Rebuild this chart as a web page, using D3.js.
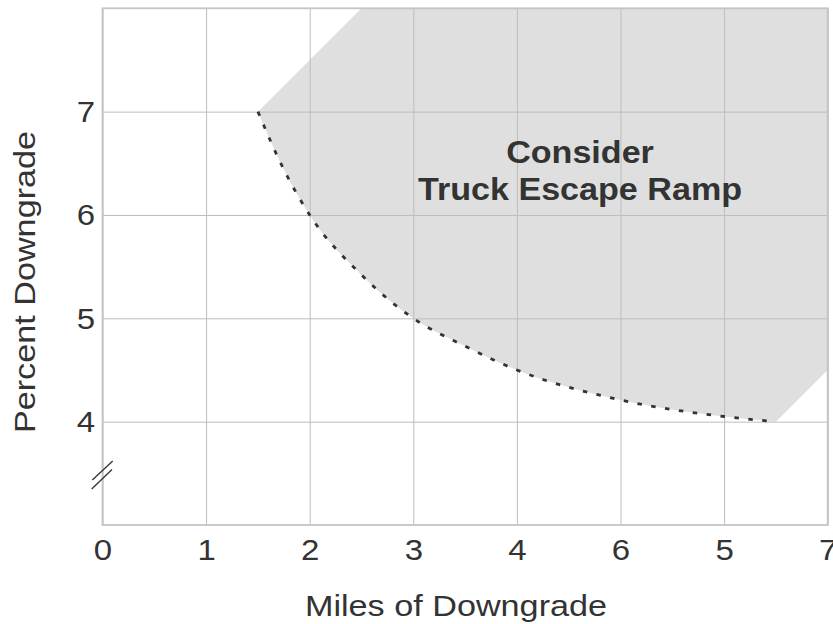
<!DOCTYPE html>
<html>
<head>
<meta charset="utf-8">
<script src="https://cdn.jsdelivr.net/npm/d3@7"></script>
<style>
  html, body { margin: 0; padding: 0; background: #fff; }
  svg { display: block; }
  text { font-family: "Liberation Sans", Arial, Helvetica, sans-serif; fill: #333; }
</style>
</head>
<body>
<svg id="chart" width="833" height="624"></svg>
<script>
// Axis positions (miles) and the labels printed under them
const xTicks = [0, 1, 2, 3, 4, 5, 6, 7];
const xTickLabels = ["0", "1", "2", "3", "4", "6", "5", "7"];
// Percent grade ticks shown on the left (bottom of the axis is broken)
const yTicks = [4, 5, 6, 7];
const yTickLabels = ["4", "5", "6", "7"];

// Boundary curve: grade vs. length of downgrade
const curveMiles = [1.5, 1.75, 2, 2.5, 3, 3.5, 4, 5, 6, 6.5];
const curveGrade = [7.0, 6.44, 6.0, 5.42, 5.0, 4.73, 4.5, 4.21, 4.05, 4.0];

// Outer corners of the shaded "consider a ramp" zone (after the curve ends)
const zoneMiles = [6.5, 7, 7, 2.5, 1.5];
const zoneGrade = [4.0, 4.5, 8, 8, 7.0];

const svg = d3.select("#chart");
const plotL = 102.5, plotR = 827.7, plotT = 8.3, plotB = 525;
const x = d3.scaleLinear().domain([0, 7]).range([plotL, plotR]);
const y = d3.scaleLinear().domain([3, 8]).range([plotB, plotT]);
const stretch = "scale(1.1,1)";
const titleStretch = "scale(1.14,1)";

const curvePts = curveMiles.map((m, i) => [m, curveGrade[i]]);
const zonePts = zoneMiles.map((m, i) => [m, zoneGrade[i]]);

const line = d3.line().x(d => x(d[0])).y(d => y(d[1])).curve(d3.curveMonotoneX);

// shaded zone: curve, then the outer corners, closed
const zonePath = line(curvePts) + zonePts.map(p => "L" + x(p[0]) + "," + y(p[1])).join("") + "Z";
svg.append("path").attr("d", zonePath).attr("fill", "#dfdfdf");

// gridlines via axes
const gx = svg.append("g").attr("transform", `translate(0,${plotB})`)
  .call(d3.axisBottom(x).tickValues(xTicks).tickSize(-(plotB - plotT))
    .tickFormat((d, i) => xTickLabels[i]));
gx.select(".domain").remove();
gx.selectAll(".tick line").attr("stroke", "#bdbdbd").attr("stroke-width", 1);
gx.selectAll(".tick text")
  .attr("y", 35.5).attr("dy", null)
  .attr("font-size", 30).attr("fill", "#333")
  .attr("font-family", "Liberation Sans, Arial, sans-serif")
  .attr("transform", stretch);

const gy = svg.append("g").attr("transform", `translate(${plotL},0)`)
  .call(d3.axisLeft(y).tickValues(yTicks).tickSize(-(plotR - plotL))
    .tickFormat((d, i) => yTickLabels[i]));
gy.select(".domain").remove();
gy.selectAll(".tick line").attr("stroke", "#bdbdbd").attr("stroke-width", 1);
gy.selectAll(".tick text")
  .attr("x", -6.8).attr("y", 10).attr("dy", null)
  .attr("font-size", 30).attr("fill", "#333")
  .attr("font-family", "Liberation Sans, Arial, sans-serif")
  .attr("transform", stretch);

// plot frame
svg.append("rect")
  .attr("x", x(0)).attr("y", y(8))
  .attr("width", x(7) - x(0)).attr("height", y(3) - y(8))
  .attr("fill", "none").attr("stroke", "#c4c4c4").attr("stroke-width", 1.8);

// dotted boundary curve
svg.append("path").attr("d", line(curvePts))
  .attr("fill", "none").attr("stroke", "#333")
  .attr("stroke-width", 2.8).attr("stroke-dasharray", "4.5 9.5");

// axis break mark
const brk = svg.append("g").attr("stroke", "#333").attr("stroke-width", 1.3);
brk.append("line").attr("x1", 92.3).attr("y1", 480).attr("x2", 112.7).attr("y2", 461);
brk.append("line").attr("x1", 91.7).attr("y1", 489).attr("x2", 112).attr("y2", 469.5);

// zone label
svg.append("text").attr("transform", `translate(580,162.7) ${stretch}`)
  .attr("text-anchor", "middle").attr("font-size", 31).attr("font-weight", "bold")
  .text("Consider");
svg.append("text").attr("transform", `translate(580,200) ${stretch}`)
  .attr("text-anchor", "middle").attr("font-size", 31).attr("font-weight", "bold")
  .text("Truck Escape Ramp");

// axis titles
svg.append("text").attr("transform", `translate(456,616) ${titleStretch}`)
  .attr("text-anchor", "middle").attr("font-size", 30)
  .text("Miles of Downgrade");
svg.append("text").attr("transform", `translate(34.5,282) rotate(-90) ${titleStretch}`)
  .attr("text-anchor", "middle").attr("font-size", 30)
  .text("Percent Downgrade");
</script>
</body>
</html>
